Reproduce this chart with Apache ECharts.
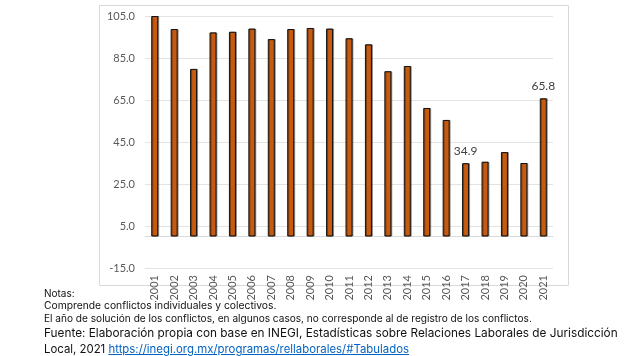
<!DOCTYPE html>
<html>
<head>
<meta charset="utf-8">
<script src="https://cdn.jsdelivr.net/npm/echarts@6/dist/echarts.min.js"></script>
<style>
  html,body{margin:0;padding:0;background:#fff;}
  #wrap{position:relative;width:627px;height:356px;overflow:hidden;}
  #chart{position:absolute;left:0;top:0;width:627px;height:356px;}
  .note{position:absolute;left:44px;font-family:Inter,"Noto Sans",sans-serif;color:#111;white-space:nowrap;line-height:12px;}
  .n1{top:287px;font-size:10px;}
  .n2{top:299px;font-size:10.3px;}
  .n3{top:312px;font-size:10.1px;}
  .src{position:absolute;left:44px;width:566px;font-family:Inter,"Noto Sans",sans-serif;color:#111;font-size:11.8px;line-height:14px;}
  .s1{top:326px;text-align:justify;text-align-last:justify;white-space:nowrap;}
  .s2{top:342px;white-space:nowrap;font-size:11.4px;}
  .s2 a{color:#0563C1;text-decoration:underline;}
</style>
</head>
<body>
<div id="wrap">
  <div id="chart"></div>
  <div class="note n1">Notas:</div>
  <div class="note n2">Comprende conflictos individuales y colectivos.</div>
  <div class="note n3">El año de solución de los conflictos, en algunos casos, no corresponde al de registro de los conflictos.</div>
  <div class="src s1">Fuente: Elaboración propia con base en INEGI, Estadísticas sobre Relaciones Laborales de Jurisdicción</div>
  <div class="src s2">Local, 2021 <a href="#">https://inegi.org.mx/programas/rellaborales/#Tabulados</a></div>
</div>
<script>
const years = ['2001','2002','2003','2004','2005','2006','2007','2008','2009','2010','2011','2012','2013','2014','2015','2016','2017','2018','2019','2020','2021'];
const values = [105.0, 98.8, 79.8, 97.2, 97.5, 99.0, 94.0, 98.8, 99.3, 99.0, 94.4, 91.5, 78.7, 81.2, 61.2, 55.5, 34.9, 35.6, 40.2, 35.0, 65.8];
const labeledYears = ['2017','2021'];
const yTicks = {min: -15, max: 105, interval: 20};

const chart = echarts.init(document.getElementById('chart'), null, {renderer:'canvas'});
const seriesData = values.map((v, i) => {
  const item = {value: v};
  if (labeledYears.includes(years[i])) {
    item.label = {show: true, position: 'top', distance: 6, color: '#404040', fontSize: 12, fontFamily: 'Lato', formatter: p => p.value.toFixed(1)};
  }
  return item;
});
chart.setOption({
  animation: false,
  backgroundColor: '#fff',
  graphic: [{
    type: 'rect', left: 97, top: 3, shape: {width: 469, height: 280},
    style: {fill: 'none', stroke: '#d9d9d9', lineWidth: 1}, silent: true, z: -1
  }],
  grid: {left: 145, right: 74, top: 16, bottom: 88},
  xAxis: {
    type: 'category', data: years,
    axisLine: {onZero: true, lineStyle: {color: '#d9d9d9'}},
    axisTick: {show: false},
    axisLabel: {rotate: 90, color: '#595959', fontSize: 11, fontFamily: 'Lato', margin: 7, interval: 0}
  },
  yAxis: {
    type: 'value', min: yTicks.min, max: yTicks.max, interval: yTicks.interval,
    axisLine: {show: false}, axisTick: {show: false},
    splitLine: {lineStyle: {color: '#e3e3e3', width: 1}},
    axisLabel: {color: '#595959', fontSize: 11, fontFamily: 'Lato', margin: 10, formatter: v => v.toFixed(1)}
  },
  series: [{
    type: 'bar', data: seriesData, barWidth: 7,
    itemStyle: {color: '#C55A11', borderColor: '#111', borderWidth: 1,
      shadowColor: 'rgba(0,0,0,0.35)', shadowOffsetX: 1, shadowOffsetY: 0, shadowBlur: 0}
  }]
});
</script>
</body>
</html>
